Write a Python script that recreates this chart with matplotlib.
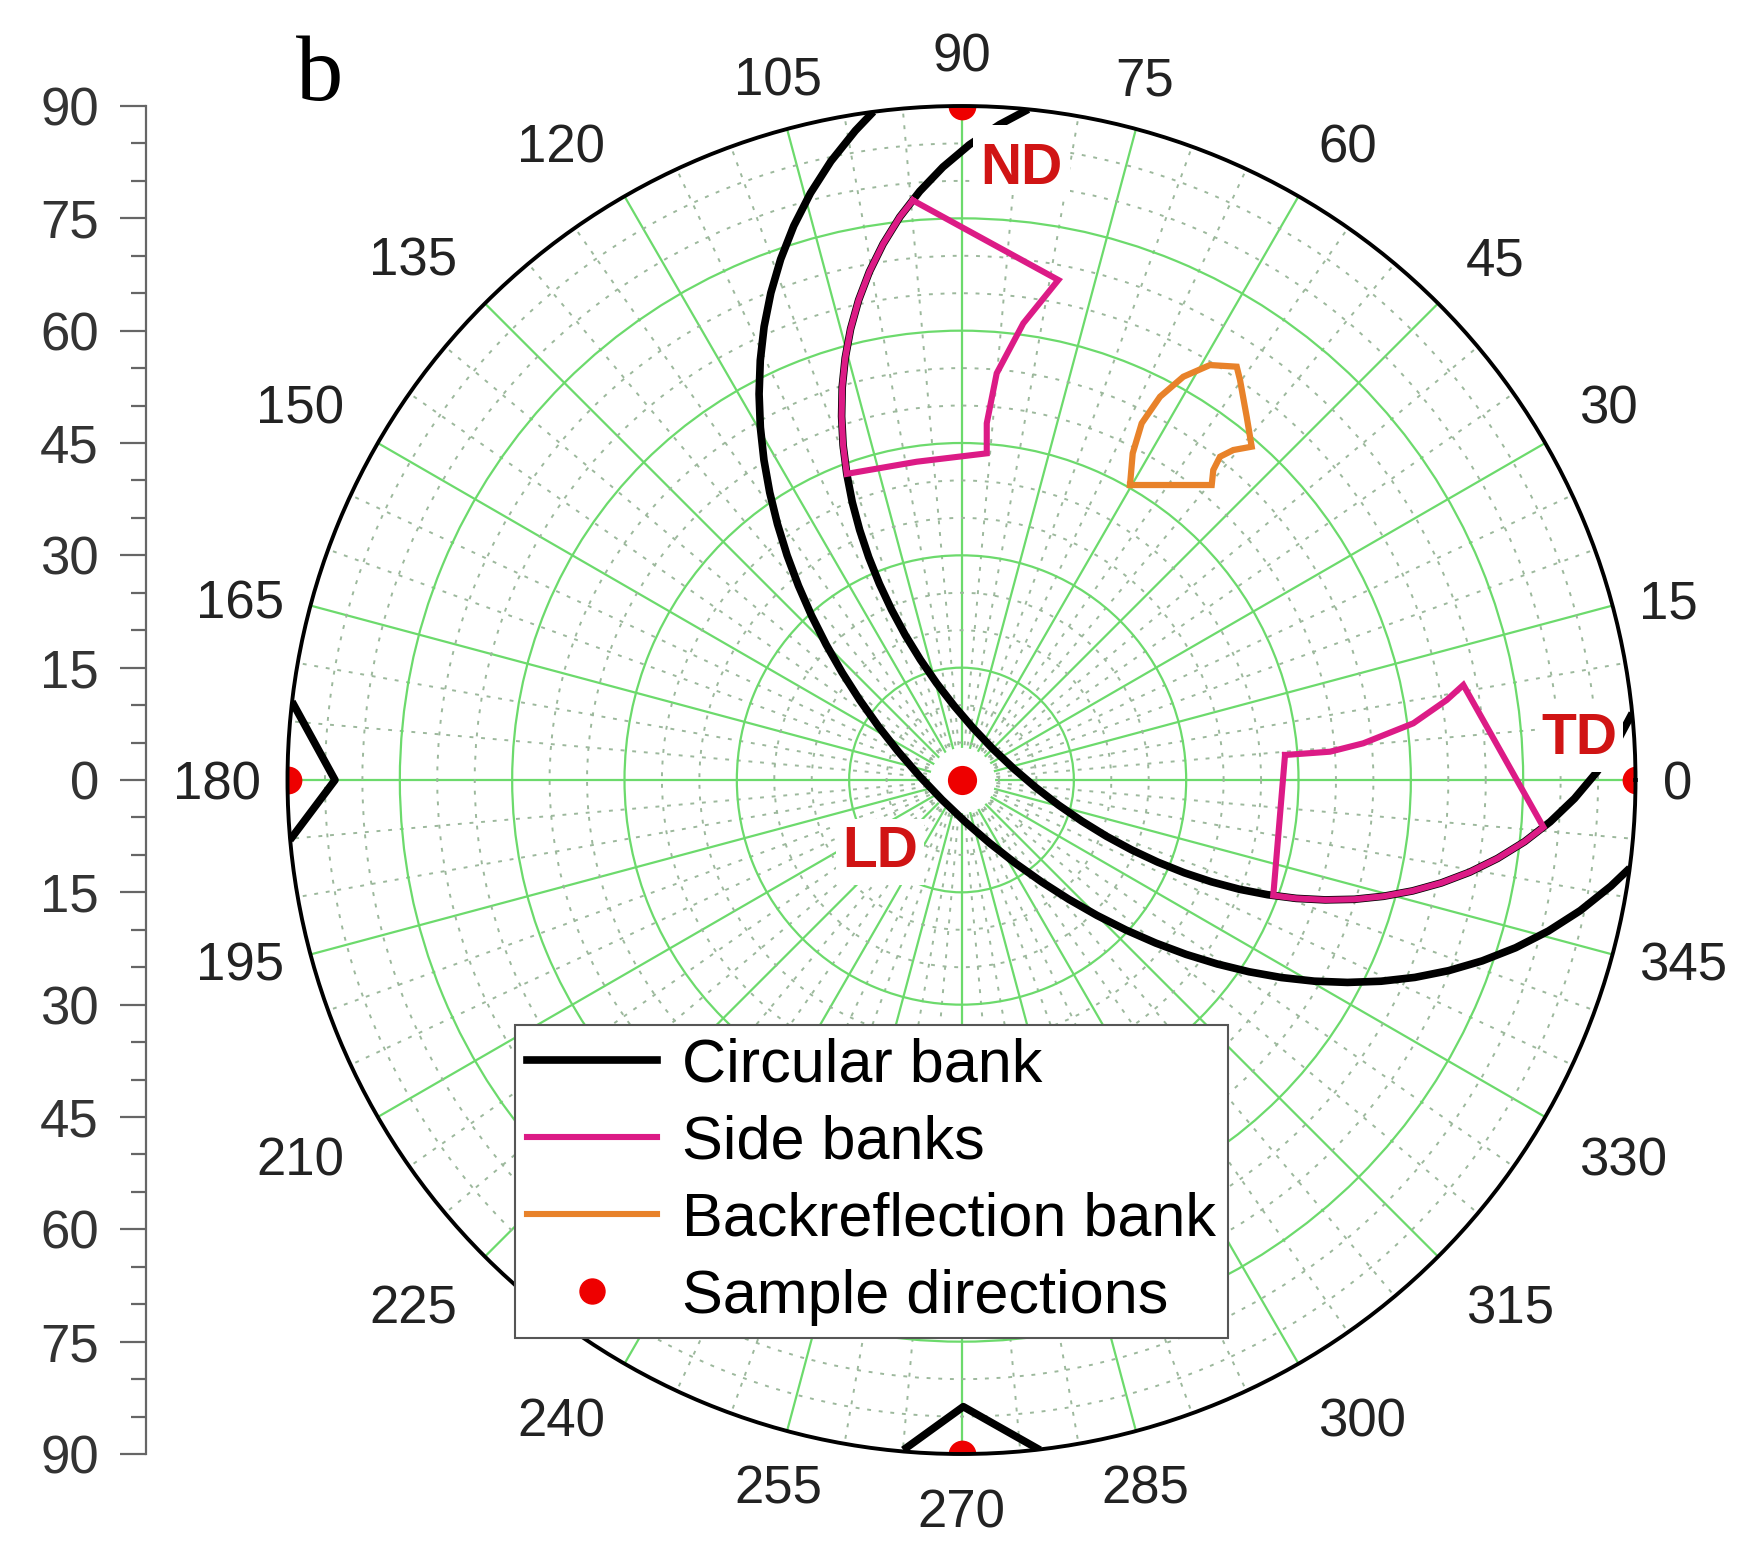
import numpy as np
import matplotlib
matplotlib.use("Agg")
import matplotlib.pyplot as plt
from matplotlib.lines import Line2D
from matplotlib.patches import Rectangle

plt.rcParams['font.family'] = ['Liberation Sans', 'DejaVu Sans']

# ---------------- data (projected degrees: x = r cos(phi), y = r sin(phi)) ----------------
theta_tick_deg = list(range(0, 360, 15))
theta_tick_labels = [str(t) for t in theta_tick_deg]
tilt_tick_values = [90, 75, 60, 45, 30, 15, 0, -15, -30, -45, -60, -75, -90]
tilt_tick_labels = ['90', '75', '60', '45', '30', '15', '0', '15', '30', '45', '60', '75', '90']

# circular bank: outer edge
outer_x = [-11.77, -14.17, -17.44, -20.17, -22.40, -24.15, -25.46,
           -26.36, -26.87, -27.03, -26.86, -26.38, -25.61, -24.57,
           -23.29, -21.77, -20.03, -18.08, -15.93, -13.60, -11.10,
           -8.43, -5.60, -2.62, 0.51, 3.77, 7.17, 10.69,
           14.33, 18.09, 21.96, 25.93, 30.00, 34.16, 38.40,
           42.72, 47.10, 51.54, 56.02, 60.53, 65.04, 69.54,
           73.99, 78.36, 82.62, 86.71, 89.23]
outer_y = [89.23, 86.71, 82.62, 78.36, 73.99, 69.54, 65.04,
           60.53, 56.02, 51.54, 47.10, 42.72, 38.40, 34.16,
           30.00, 25.93, 21.96, 18.09, 14.33, 10.69, 7.17,
           3.77, 0.51, -2.62, -5.60, -8.43, -11.10, -13.60,
           -15.93, -18.08, -20.03, -21.77, -23.29, -24.57, -25.61,
           -26.38, -26.86, -27.03, -26.87, -26.36, -25.46, -24.15,
           -22.40, -20.17, -17.44, -14.17, -11.77]

# circular bank: inner edge
inner_x = [8.92, 5.08, 1.07, -2.48, -5.58, -8.24, -10.47,
           -12.30, -13.74, -14.81, -15.53, -15.93, -16.01, -15.81,
           -15.32, -14.59, -13.60, -12.39, -10.96, -9.33, -7.51,
           -5.50, -3.32, -0.97, 1.53, 4.17, 6.96, 9.88,
           12.92, 16.08, 19.35, 22.72, 26.19, 29.75, 33.39,
           37.11, 40.88, 44.70, 48.56, 52.45, 56.34, 60.23,
           64.08, 67.87, 71.58, 75.18, 78.61, 81.85, 84.84,
           87.52, 89.56]
inner_y = [89.56, 87.52, 84.84, 81.85, 78.61, 75.18, 71.58,
           67.87, 64.08, 60.23, 56.34, 52.45, 48.56, 44.70,
           40.88, 37.11, 33.39, 29.75, 26.19, 22.72, 19.35,
           16.08, 12.92, 9.88, 6.96, 4.17, 1.53, -0.97,
           -3.32, -5.50, -7.51, -9.33, -10.96, -12.39, -13.60,
           -14.59, -15.32, -15.81, -16.01, -15.93, -15.53, -14.81,
           -13.74, -12.30, -10.47, -8.24, -5.58, -2.48, 1.07,
           5.08, 8.92]

# wrap-around marks of the circular bank at 180 and 270
tri_left_x = [-89.40, -83.66, -89.67]
tri_left_y = [10.46, 0.00, -8.01]
tri_bottom_x = [-7.77, 0.24, 10.48]
tri_bottom_y = [-89.47, -83.68, -89.47]

# side banks
side1_x = [-6.50, 12.93, 8.25, 4.70, 3.37, 3.37, -5.98, -15.32,
           -15.81, -16.01, -15.93, -15.53, -14.81, -13.74, -12.30, -10.47, -8.24, -6.50]
side1_y = [77.40, 66.77, 60.98, 54.31, 47.63, 43.62, 42.50, 40.88,
           44.70, 48.56, 52.45, 56.34, 60.23, 64.08, 67.87, 71.58, 75.18, 77.40]

side2_x = [43.20, 49.21, 53.65, 60.33, 64.79, 67.01, 77.70,
           75.18, 71.58, 67.87, 64.08, 60.23, 56.34, 52.45, 48.56, 44.70, 41.63, 43.20]
side2_y = [3.34, 3.78, 4.90, 7.57, 10.68, 12.69, -6.30,
           -8.24, -10.47, -12.30, -13.74, -14.81, -15.53, -15.93, -16.01, -15.81, -15.42, 3.34]

# backreflection bank
back_x = [22.50, 33.41, 33.62, 34.52, 36.29, 38.75, 38.08, 37.19, 36.75, 33.18, 29.62, 26.51, 24.06, 22.86, 22.50]
back_y = [39.39, 39.39, 41.39, 43.17, 44.06, 44.51, 48.51, 53.41, 55.19, 55.41, 53.85, 51.18, 47.63, 43.62, 39.39]

# sample directions (theta deg, tilt)
sample_theta_deg = [0, 90, 180, 270]
sample_r = [90, 90, 90, 90]
center_theta_deg = [0]
center_r = [0]

legend_labels = ['Circular bank', 'Side banks', 'Backreflection bank', 'Sample directions']


def to_polar(x, y):
    x = np.asarray(x, float)
    y = np.asarray(y, float)
    return np.unwrap(np.arctan2(y, x)), np.hypot(x, y)


# ---------------- figure ----------------
W, H = 1747, 1545
fig = plt.figure(figsize=(W / 100, H / 100), dpi=100)
fig.patch.set_facecolor('white')

ax = fig.add_axes([0.16457, 0.0589, 0.77161, 0.87249], projection='polar')
ax.set_ylim(0, 90)
ax.set_xticks(np.deg2rad(theta_tick_deg))
ax.set_xticks(np.deg2rad(np.arange(0, 360, 5)), minor=True)
ax.set_xticklabels([])
ax.set_yticks([15, 30, 45, 60, 75])
ax.set_yticks(np.arange(5, 90, 5), minor=True)
ax.set_yticklabels([])
ax.set_yticklabels([], minor=True)
ax.tick_params(axis='y', which='both', length=0)
ax.tick_params(axis='x', which='major', direction='in', length=18, width=2.2, color='black')
ax.tick_params(axis='x', which='minor', direction='in', length=9, width=1.8, color='black')
ax.grid(True, which='minor', color='#9cb89c', lw=1.4, ls=(0, (2, 4)))
ax.grid(True, which='major', color='#6cda6c', lw=1.6, ls='-')
ax.spines['polar'].set_linewidth(2.8)
ax.spines['polar'].set_color('black')

# theta labels outside the circle (corner / edge anchored)
fs_tick = 38
g_main = 28.0
g_vert = 25.0
g_side = 19.5
for t, lab in zip(theta_tick_deg, theta_tick_labels):
    a = np.deg2rad(t)
    c, s = np.cos(a), np.sin(a)
    ha = 'left' if c > 0.3 else ('right' if c < -0.3 else 'center')
    if s > 0.3:
        va = 'baseline'
    elif s < -0.3:
        va = 'top'
    else:
        va = 'center_baseline'
    if va == 'center_baseline':
        g = g_side
    elif ha == 'center':
        g = g_vert
    else:
        g = g_main
    ax.annotate(lab, xy=(a, 90), xytext=(g * c, g * s),
                textcoords='offset points', ha=ha, va=va,
                fontsize=fs_tick, color='#222222', annotation_clip=False)

black = 'black'
pink = '#dc1b86'
orange = '#e8822a'
red = '#ee0000'

for xs, ys in [(outer_x, outer_y), (inner_x, inner_y), (tri_left_x, tri_left_y), (tri_bottom_x, tri_bottom_y)]:
    th, r = to_polar(xs, ys)
    ax.plot(th, r, color=black, lw=5.5, solid_capstyle='butt', solid_joinstyle='round', zorder=3)

for xs, ys in [(side1_x, side1_y), (side2_x, side2_y)]:
    th, r = to_polar(xs, ys)
    ax.plot(th, r, color=pink, lw=4.4, solid_joinstyle='miter', zorder=4)

th, r = to_polar(back_x, back_y)
ax.plot(th, r, color=orange, lw=4.5, solid_joinstyle='miter', zorder=4)

# sample directions
ax.plot(np.deg2rad(center_theta_deg), center_r, 'o', color='white', ms=46, zorder=1.8)
ax.plot(np.deg2rad(center_theta_deg), center_r, 'o', color=red, ms=21, mew=0, zorder=2.4)
ax.plot(np.deg2rad(sample_theta_deg), sample_r, 'o', color=red, ms=20, mew=0, zorder=2.2)

# direction labels (white background covering the curves)
ax.add_patch(Rectangle((0.5085, 0.934), 0.072, 0.0519, transform=ax.transAxes,
                       fc='white', ec='none', zorder=5, clip_on=False))
lab_kw = dict(transform=ax.transAxes, color='#d01414', fontsize=41, fontweight='bold',
              ha='left', va='baseline', zorder=6)
box_kw = dict(boxstyle='square,pad=0.1', fc='white', ec='none')
ax.text(0.5137, 0.9421, 'ND', **lab_kw)
ax.text(0.9299, 0.5193, 'TD', bbox=box_kw, **lab_kw)
ax.text(0.4114, 0.4355, 'LD', bbox=box_kw, **lab_kw)

# left tilt axis
axl = fig.add_axes([0.0836, 0.0589, 0.0005, 0.87249])
axl.set_ylim(-90, 90)
axl.patch.set_visible(False)
for s in ['top', 'right', 'bottom']:
    axl.spines[s].set_visible(False)
axl.spines['left'].set_color('#666666')
axl.spines['left'].set_linewidth(1.6)
axl.set_xticks([])
axl.set_yticks(tilt_tick_values)
axl.set_yticklabels(tilt_tick_labels)
axl.set_yticks(np.arange(-90, 91, 5), minor=True)
axl.tick_params(axis='y', which='major', length=19, width=1.6, color='#666666',
                labelsize=fs_tick, labelcolor='#333333', pad=15)
axl.tick_params(axis='y', which='minor', length=11, width=1.6, color='#666666')

# panel letter
fig.text(296 / W, 1 - 100 / H, 'b', fontsize=68, family='Liberation Serif', ha='left', va='baseline')

# legend
handles = [Line2D([], [], color=black, lw=5.5),
           Line2D([], [], color=pink, lw=4.4),
           Line2D([], [], color=orange, lw=4.4),
           Line2D([], [], ls='none', marker='o', color=red, ms=18)]
leg = fig.legend(handles, legend_labels, loc='upper left', bbox_to_anchor=(0.2946, 0.3366),
                 fontsize=44, frameon=True, fancybox=False, edgecolor='#555555', framealpha=1,
                 borderpad=0.2, handlelength=2.13, handletextpad=0.41, labelspacing=0.33,
                 borderaxespad=0)
leg.get_frame().set_linewidth(1.5)
leg.set_zorder(10)

fig.savefig('out.png', dpi=100, facecolor='white')
